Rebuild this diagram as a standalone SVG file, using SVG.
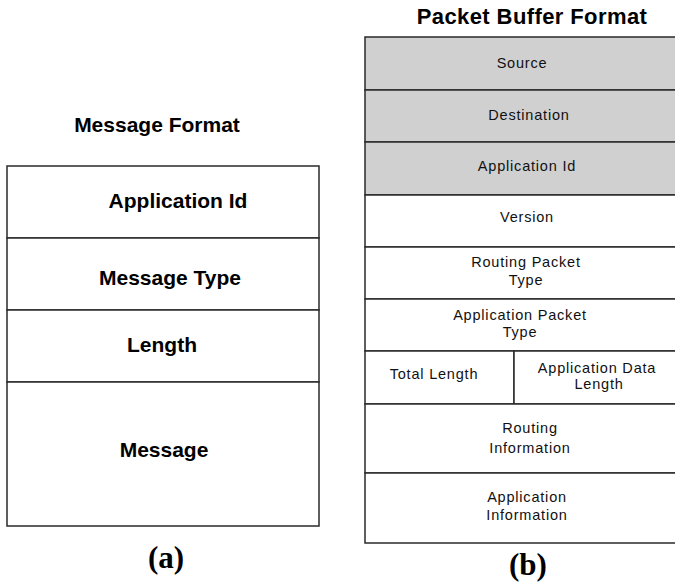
<svg xmlns="http://www.w3.org/2000/svg" width="675" height="582" viewBox="0 0 675 582">
  <style>
    .box { fill: #ffffff; stroke: #2a2a2a; stroke-width: 1.5; }
    .shade { fill: #d0d0d0; stroke: #2a2a2a; stroke-width: 1.5; }
    .title { font-family: "Liberation Sans", Arial, sans-serif; font-weight: bold; font-size: 21px; fill: #000; text-anchor: middle; }
    .title-b { font-size: 22px; letter-spacing: 0.4px; }
    .big { font-family: "Liberation Sans", Arial, sans-serif; font-weight: bold; font-size: 21px; fill: #000; text-anchor: middle; }
    .small { font-family: "Liberation Sans", Arial, sans-serif; font-size: 14.5px; letter-spacing: 0.8px; fill: #111; text-anchor: middle; }
    .caption { font-family: "Liberation Serif", "Times New Roman", serif; font-weight: bold; font-size: 31px; fill: #000; text-anchor: middle; }
  </style>
  <rect width="675" height="582" fill="#ffffff"/>

  <!-- (a) Message format -->
  <g id="message-format">
    <text class="title" x="157" y="132">Message Format</text>
    <g id="msg-application-id">
      <rect class="box" x="7" y="166" width="312" height="72"/>
      <text class="big" x="178" y="208">Application Id</text>
    </g>
    <g id="msg-message-type">
      <rect class="box" x="7" y="238" width="312" height="72"/>
      <text class="big" x="170" y="285">Message Type</text>
    </g>
    <g id="msg-length">
      <rect class="box" x="7" y="310" width="312" height="72"/>
      <text class="big" x="162" y="352">Length</text>
    </g>
    <g id="msg-message">
      <rect class="box" x="7" y="382" width="312" height="144"/>
      <text class="big" x="164" y="457">Message</text>
    </g>
    <text class="caption" x="166" y="568">(a)</text>
  </g>

  <!-- (b) Packet buffer format -->
  <g id="packet-buffer-format">
    <text class="title title-b" x="532" y="24">Packet Buffer Format</text>
    <g id="pkt-source">
      <rect class="shade" x="365" y="37" width="320" height="53"/>
      <text class="small" x="522" y="68">Source</text>
    </g>
    <g id="pkt-destination">
      <rect class="shade" x="365" y="90" width="320" height="52"/>
      <text class="small" x="529" y="120">Destination</text>
    </g>
    <g id="pkt-application-id">
      <rect class="shade" x="365" y="142" width="320" height="53"/>
      <text class="small" x="527" y="171">Application Id</text>
    </g>
    <g id="pkt-version">
      <rect class="box" x="365" y="195" width="320" height="52"/>
      <text class="small" x="527" y="222">Version</text>
    </g>
    <g id="pkt-routing-packet-type">
      <rect class="box" x="365" y="247" width="320" height="52"/>
      <text class="small" x="526" y="267">Routing Packet</text>
      <text class="small" x="526" y="285">Type</text>
    </g>
    <g id="pkt-application-packet-type">
      <rect class="box" x="365" y="299" width="320" height="52"/>
      <text class="small" x="520" y="320">Application Packet</text>
      <text class="small" x="520" y="337">Type</text>
    </g>
    <g id="pkt-total-length">
      <rect class="box" x="365" y="351" width="149" height="53"/>
      <text class="small" x="434" y="379">Total Length</text>
    </g>
    <g id="pkt-application-data-length">
      <rect class="box" x="514" y="351" width="171" height="53"/>
      <text class="small" x="597" y="373">Application Data</text>
      <text class="small" x="599" y="389">Length</text>
    </g>
    <g id="pkt-routing-information">
      <rect class="box" x="365" y="404" width="320" height="69"/>
      <text class="small" x="530" y="433">Routing</text>
      <text class="small" x="530" y="453">Information</text>
    </g>
    <g id="pkt-application-information">
      <rect class="box" x="365" y="473" width="320" height="70"/>
      <text class="small" x="527" y="502">Application</text>
      <text class="small" x="527" y="520">Information</text>
    </g>
    <text class="caption" x="528" y="575">(b)</text>
  </g>
</svg>
